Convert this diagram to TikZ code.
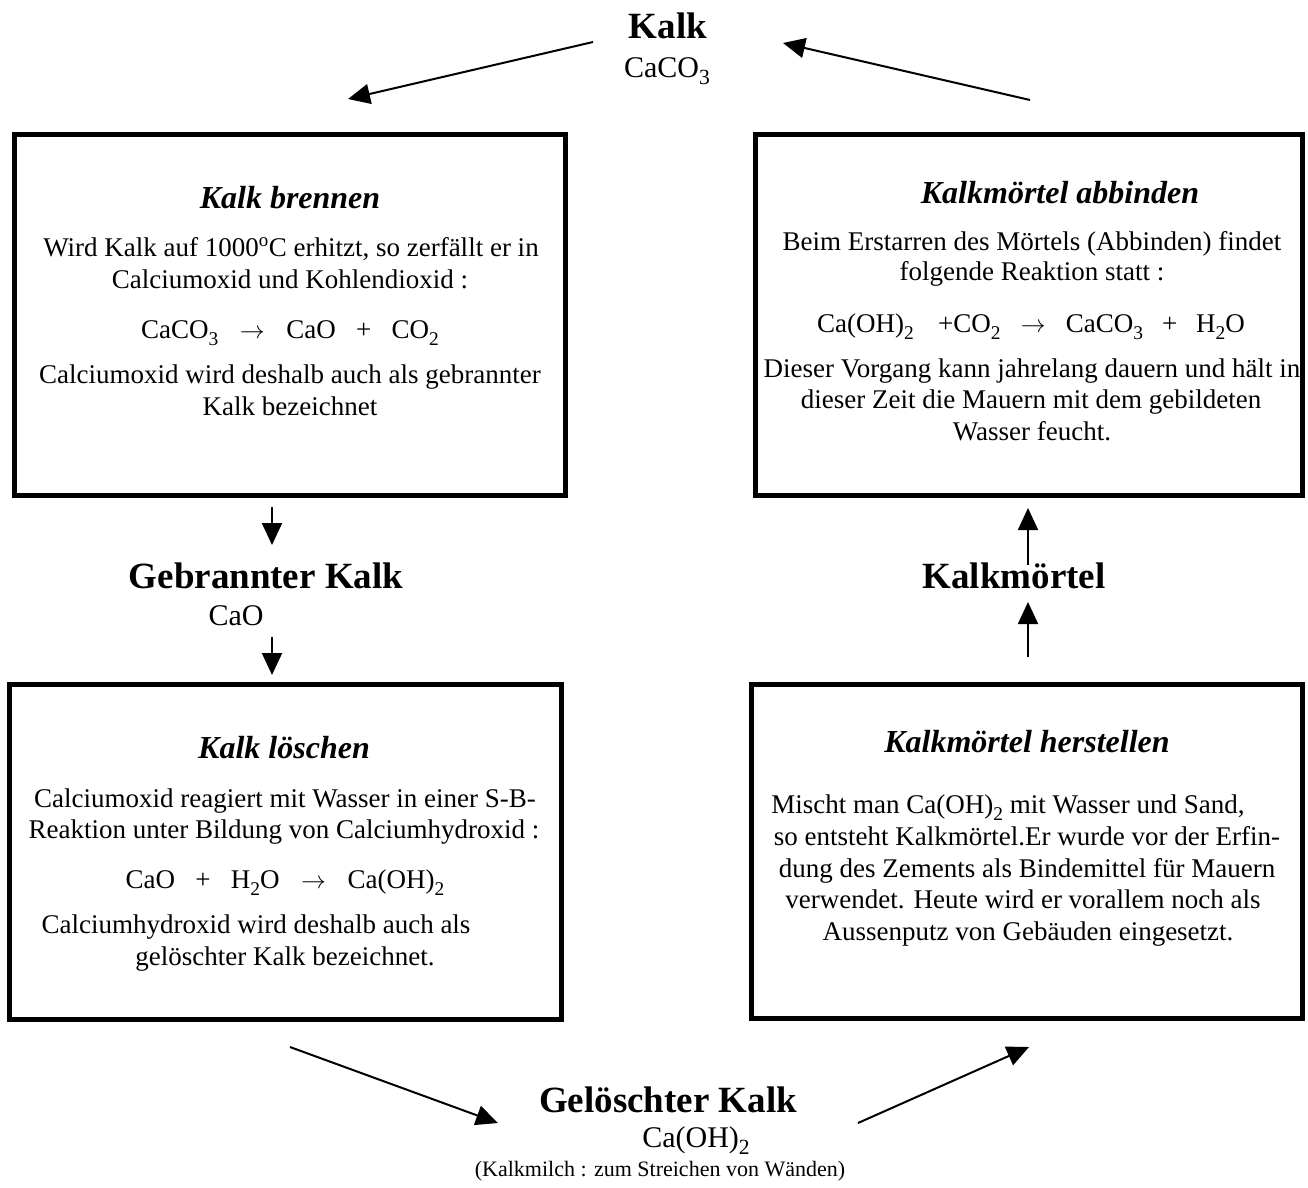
\documentclass[tikz,border=0pt]{standalone}
\usepackage{graphicx}
\usepackage{fontspec}
\setmainfont{Liberation Serif}
\usetikzlibrary{arrows.meta}
\newcommand{\sbs}[1]{\raisebox{-0.26em}{\scalebox{0.72}{#1}}}
\tikzset{
  boxst/.style={draw, line width=5pt, inner sep=0pt},
  body/.style={anchor=base, inner sep=0pt, font=\fontsize{27}{32}\selectfont},
  ttl/.style={anchor=base, inner sep=0pt, font=\fontsize{32}{38}\selectfont\bfseries\itshape},
  big/.style={anchor=base, inner sep=0pt, font=\fontsize{37}{44}\selectfont\bfseries},
  chem/.style={anchor=base, inner sep=0pt, font=\fontsize{30}{36}\selectfont},
  small/.style={anchor=base, inner sep=0pt, font=\fontsize{22}{26}\selectfont},
  arr/.style={line width=2pt, -{Triangle[length=22pt,width=20pt]}}
}
\begin{document}
\begin{tikzpicture}[x=1pt,y=-1pt]
\useasboundingbox (0,0) rectangle (1308,1187);
\fill[white] (0,0) rectangle (1308,1187);

% boxes
\node[boxst, minimum width=551pt, minimum height=361pt] (b1) at (290,315) {};
\node[boxst, minimum width=547pt, minimum height=361pt] (b2) at (1029,315) {};
\node[boxst, minimum width=552pt, minimum height=335pt] (b3) at (285.5,852) {};
\node[boxst, minimum width=551pt, minimum height=334pt] (b4) at (1027,851.5) {};

% box 1
\node[ttl]  (b1t) at (290,208) {Kalk brennen};
\node[body] (b1a) at (291,256) {Wird Kalk auf 1000\textsuperscript{o}C erhitzt, so zerfällt er in};
\node[body] (b1b) at (290,288) {Calciumoxid und Kohlendioxid :};
\node[body] (b1f) at (290,338) {CaCO\sbs{3}\hspace{0.8em}$\rightarrow$\hspace{0.8em}CaO\hspace{0.75em}+\hspace{0.75em}CO\sbs{2}};
\node[body] (b1c) at (290,383) {Calciumoxid wird deshalb auch als gebrannter};
\node[body] (b1d) at (290,415) {Kalk bezeichnet};

% box 2
\node[ttl]  (b2t) at (1060,203) {Kalkmörtel abbinden};
\node[body] (b2a) at (1032,250) {Beim Erstarren des Mörtels (Abbinden) findet};
\node[body] (b2b) at (1032,280) {folgende Reaktion statt :};
\node[body] (b2f) at (1031,332) {Ca(OH)\sbs{2}\hspace{0.9em}+CO\sbs{2}\hspace{0.75em}$\rightarrow$\hspace{0.75em}CaCO\sbs{3}\hspace{0.7em}+\hspace{0.7em}H\sbs{2}O};
\node[body] (b2c) at (1032,377) {Dieser Vorgang kann jahrelang dauern und hält in};
\node[body] (b2d) at (1031,408) {dieser Zeit die Mauern mit dem gebildeten};
\node[body] (b2e) at (1032,440) {Wasser feucht.};

% box 3
\node[ttl]  (b3t) at (284,758) {Kalk löschen};
\node[body] (b3a) at (285,807) {Calciumoxid reagiert mit Wasser in einer S-B-};
\node[body] (b3b) at (284,838) {Reaktion unter Bildung von Calciumhydroxid :};
\node[body] (b3f) at (285,888) {CaO\hspace{0.75em}+\hspace{0.75em}H\sbs{2}O\hspace{0.8em}$\rightarrow$\hspace{0.8em}Ca(OH)\sbs{2}};
\node[body] (b3c) at (256,933) {Calciumhydroxid wird deshalb auch als};
\node[body] (b3d) at (285,965) {gelöschter Kalk bezeichnet.};

% box 4
\node[ttl]  (b4t) at (1027,752) {Kalkmörtel herstellen};
\node[body] (b4a) at (1008,813) {Mischt man Ca(OH)\sbs{2} mit Wasser und Sand,};
\node[body] (b4b) at (1027,845) {so entsteht Kalkmörtel.Er wurde vor der Erfin-};
\node[body] (b4c) at (1027,877) {dung des Zements als Bindemittel für Mauern};
\node[body] (b4d) at (1023,908) {verwendet. Heute wird er vorallem noch als};
\node[body] (b4e) at (1028,940) {Aussenputz von Gebäuden eingesetzt.};

% labels
\node[big]  (kalk) at (668,38) {Kalk};
\node[chem] (kalkf) at (667,77) {CaCO\sbs{3}};
\node[big]  (gebr) at (266,588) {Gebrannter Kalk};
\node[chem] (gebrf) at (236,625) {CaO};
\node[big]  (moert) at (1014,588) {Kalkmörtel};
\node[big]  (gel) at (668,1112) {Gelöschter Kalk};
\node[chem] (gelf) at (696,1147) {Ca(OH)\sbs{2}};
\node[small] (gelm) at (660,1176) {(Kalkmilch : zum Streichen von Wänden)};

% arrow end points
\coordinate (a1s) at (593,42);   \coordinate (a1e) at (348,99);
\coordinate (a2s) at (1030,100); \coordinate (a2e) at (783,43);
\coordinate (a3s) at (272,507);  \coordinate (a3e) at (272,545);
\coordinate (a4s) at (272,637);  \coordinate (a4e) at (272,675);
\coordinate (a5s) at (1028,565); \coordinate (a5e) at (1028,508);
\coordinate (a6s) at (1028,657); \coordinate (a6e) at (1028,602);
\coordinate (a7s) at (290,1047); \coordinate (a7e) at (498,1123);
\coordinate (a8s) at (858,1123); \coordinate (a8e) at (1029,1047);

\draw[arr] (a1s) -- (a1e);
\draw[arr] (a2s) -- (a2e);
\draw[arr] (a3s) -- (a3e);
\draw[arr] (a4s) -- (a4e);
\draw[arr] (a5s) -- (a5e);
\draw[arr] (a6s) -- (a6e);
\draw[arr] (a7s) -- (a7e);
\draw[arr] (a8s) -- (a8e);
\end{tikzpicture}
\end{document}
